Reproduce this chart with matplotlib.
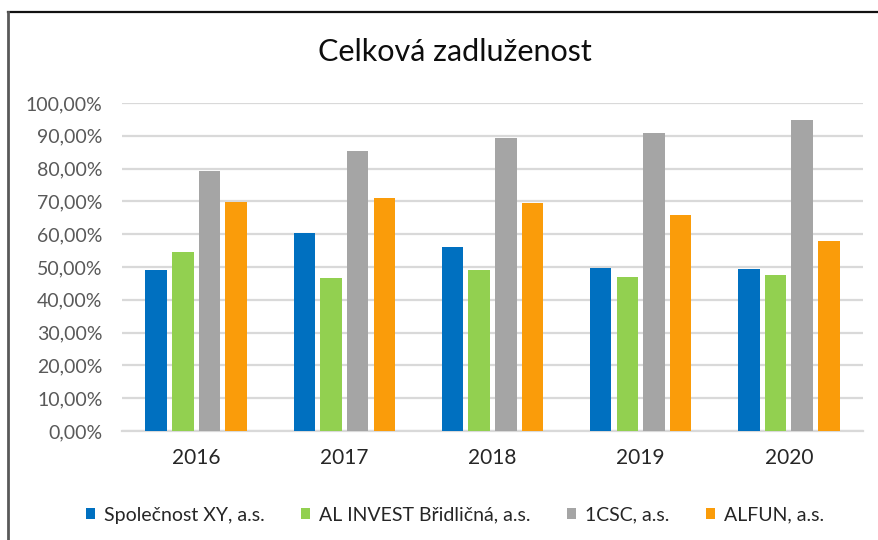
import matplotlib
matplotlib.use("Agg")
import matplotlib.pyplot as plt
from matplotlib.lines import Line2D
import numpy as np

years = ["2016", "2017", "2018", "2019", "2020"]
series_names = ["Společnost XY, a.s.", "AL INVEST Břidličná, a.s.", "1CSC, a.s.", "ALFUN, a.s."]
spolecnost_xy = [49.0, 60.5, 56.2, 49.8, 49.4]
al_invest = [54.5, 46.7, 49.0, 46.8, 47.7]
csc = [79.3, 85.4, 89.3, 91.0, 94.9]
alfun = [69.9, 70.9, 69.6, 66.0, 58.0]
colors = ["#0070C0", "#92D050", "#A5A5A5", "#FA9C0A"]

plt.rcParams['font.family'] = ['Lato', 'DejaVu Sans']

fig = plt.figure(figsize=(8.79, 5.40), dpi=100)
ax = fig.add_axes([122 / 879, 1 - 431 / 540, (863 - 122) / 879, (431 - 103) / 540])

x = np.arange(len(years))
width = 0.145
step = 0.18
for i, (vals, name) in enumerate(zip([spolecnost_xy, al_invest, csc, alfun], series_names)):
    ax.bar(x + (i - 1.5) * step, vals, width, color=colors[i], label=name, zorder=3)

ax.set_xlim(-0.5, len(years) - 0.5)
ax.set_ylim(0, 100)
ax.set_yticks(np.arange(0, 101, 10))
ax.set_yticklabels([("%.2f%%" % v).replace(".", ",") for v in np.arange(0, 101, 10)],
                   fontsize=14, color="#595959")
ax.set_xticks(x)
ax.set_xticklabels(years, fontsize=15, color="#262626")
ax.tick_params(axis="both", length=0)
ax.tick_params(axis="y", pad=14)
ax.tick_params(axis="x", pad=12)
ax.grid(axis="y", color="#D9D9D9", linewidth=1.6, zorder=0)
for s in ["top", "right", "left"]:
    ax.spines[s].set_visible(False)
ax.spines["bottom"].set_color("#D9D9D9")
ax.spines["bottom"].set_linewidth(1.6)

fig.text(455 / 879, 1 - 52 / 540, "Celková zadluženost", ha="center", va="center",
         fontsize=22, color="#0D0D0D")

fig.legend(loc="center", bbox_to_anchor=(455 / 879, 1 - 515 / 540), ncol=4, frameon=False,
           fontsize=14, handlelength=0.45, handleheight=0.45, handletextpad=0.45,
           columnspacing=1.9, labelcolor="#262626")

# chart frame (only top and left edges visible in the crop)
fig.add_artist(Line2D([8 / 879, 1], [1 - 12 / 540, 1 - 12 / 540], color="#111111", linewidth=1.6,
                      transform=fig.transFigure))
fig.add_artist(Line2D([8 / 879, 8 / 879], [0, 1 - 12 / 540], color="#595959", linewidth=2,
                      transform=fig.transFigure))

fig.savefig("out.png", dpi=100)
